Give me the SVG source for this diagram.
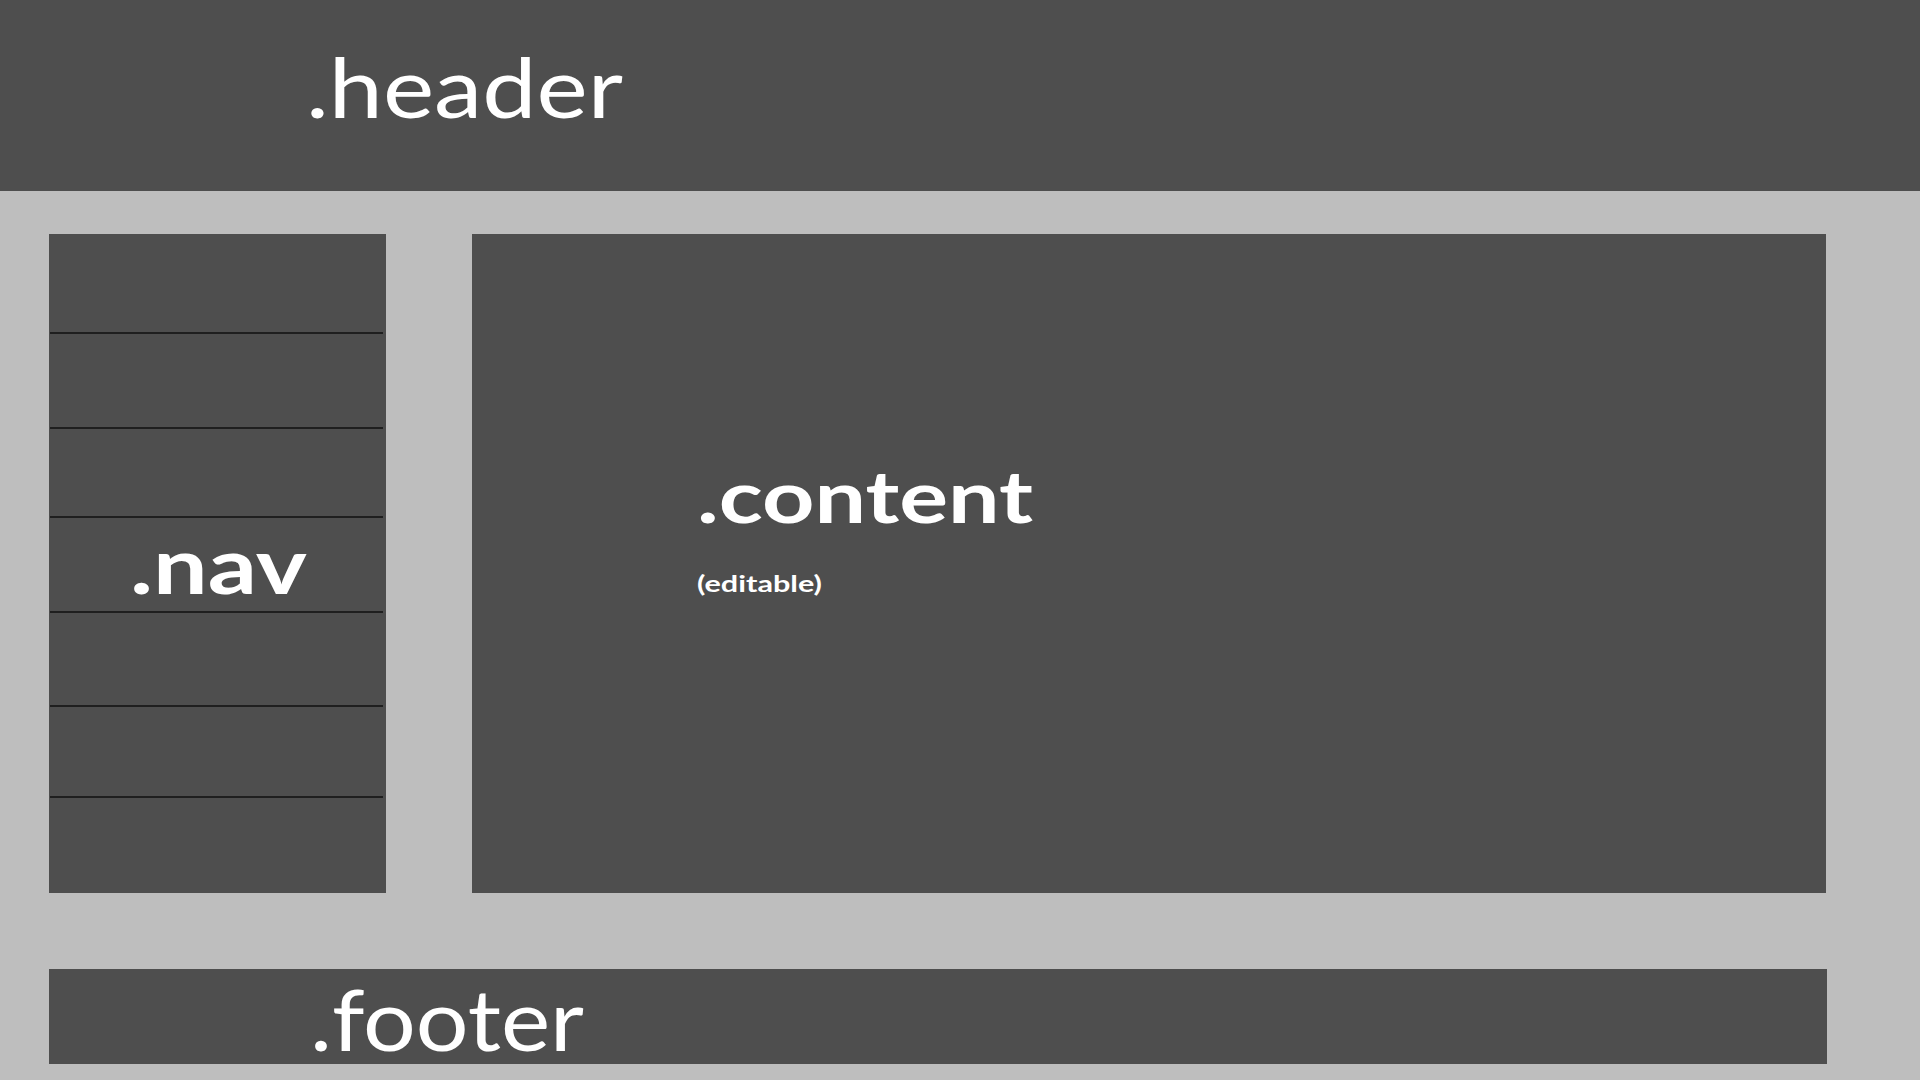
<svg xmlns="http://www.w3.org/2000/svg" width="1920" height="1080" viewBox="0 0 1920 1080">
  <style>
    .box { fill: #4e4e4e; }
    .sep { stroke: #111111; stroke-width: 1.5; }
    .lbl { fill: #ffffff; font-family: "Lato", "Open Sans", "Liberation Sans", sans-serif; }
  </style>
  <rect x="0" y="0" width="1920" height="1080" fill="#bebebe"/>
  <g id="header">
    <rect class="box" x="0" y="0" width="1920" height="191"/>
    <text class="lbl" x="306" y="118" font-size="84" textLength="317" lengthAdjust="spacingAndGlyphs">.header</text>
  </g>
  <g id="nav">
    <rect class="box" x="49" y="234" width="337" height="659"/>
    <g id="nav-separators">
      <line class="sep" x1="50" y1="333" x2="383" y2="333"/>
      <line class="sep" x1="50" y1="428" x2="383" y2="428"/>
      <line class="sep" x1="50" y1="517" x2="383" y2="517"/>
      <line class="sep" x1="50" y1="612" x2="383" y2="612"/>
      <line class="sep" x1="50" y1="706" x2="383" y2="706"/>
      <line class="sep" x1="50" y1="797" x2="383" y2="797"/>
    </g>
    <text class="lbl" x="130" y="594" font-size="78" font-weight="bold" textLength="177" lengthAdjust="spacingAndGlyphs">.nav</text>
  </g>
  <g id="content">
    <rect class="box" x="472" y="234" width="1354" height="659"/>
    <text class="lbl" x="697" y="523" font-size="72" font-weight="bold" textLength="336" lengthAdjust="spacingAndGlyphs">.content</text>
    <text class="lbl" x="697" y="592" font-size="22" font-weight="bold" textLength="125" lengthAdjust="spacingAndGlyphs">(editable)</text>
  </g>
  <g id="footer">
    <rect class="box" x="49" y="969" width="1778" height="95"/>
    <text class="lbl" x="310" y="1051" font-size="86" textLength="274" lengthAdjust="spacingAndGlyphs">.footer</text>
  </g>
  <g id="connectors"/>
</svg>
